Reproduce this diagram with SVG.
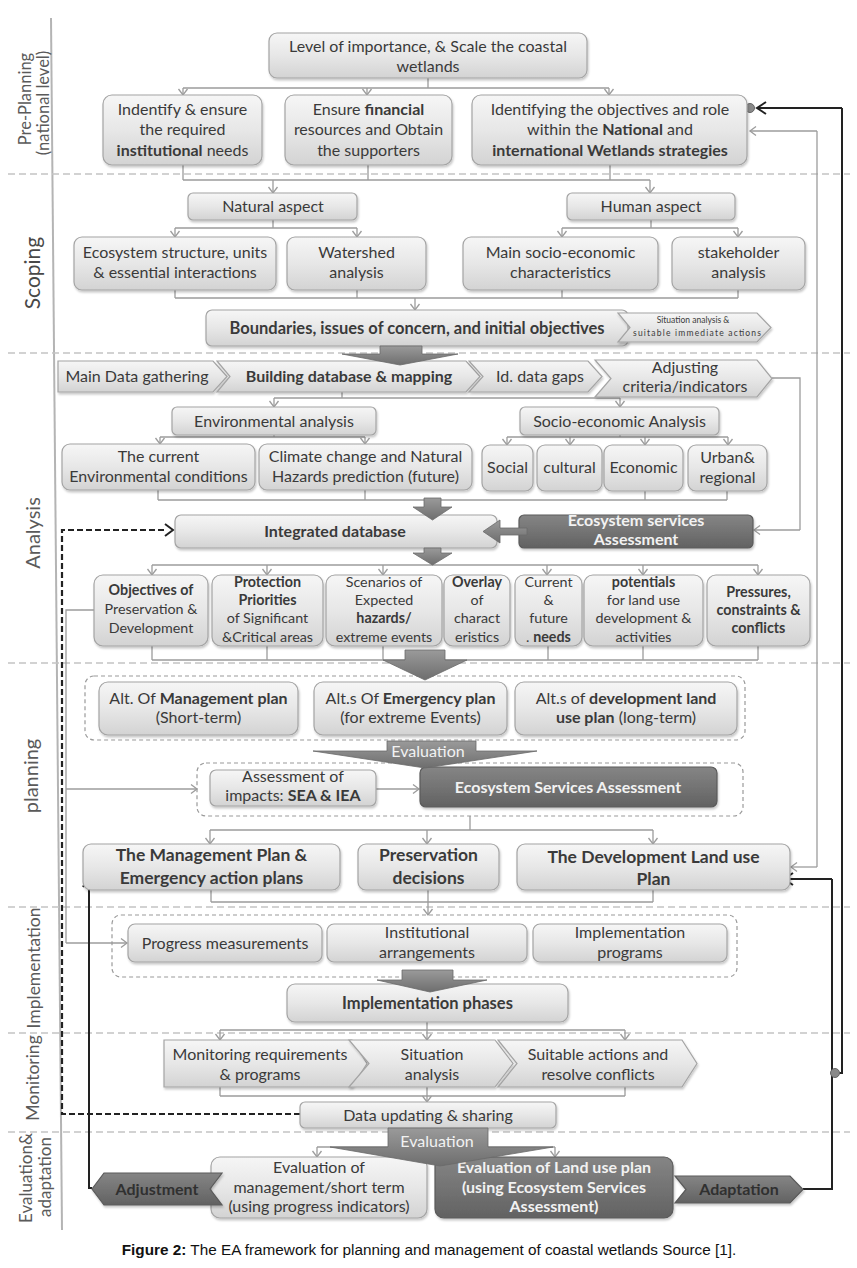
<svg xmlns="http://www.w3.org/2000/svg" width="857" height="1268" viewBox="0 0 857 1268">
<defs>
<style>
.t{font-family:Lato,"Liberation Sans",sans-serif;font-size:16px;fill:#3a3a3a;text-anchor:middle}
.s13{font-size:14.3px}
.s15{font-size:16px}
.s16{font-size:16.5px}
.s17{font-size:17.5px}
.sm{font-size:8.5px}
.b{font-weight:bold}
.w{fill:#f2f2f2}
.dk{fill:#303030}
.box{fill:url(#gl);stroke:#a4a4a4;stroke-width:1.2;filter:url(#sh)}
.dbox{fill:url(#gd);stroke:#5a5a5a;stroke-width:1.2;filter:url(#sh)}
.grp{fill:none;stroke:#9a9a9a;stroke-width:1.2;stroke-dasharray:4 3}
.div{stroke:#c4c4c4;stroke-width:1.5;stroke-dasharray:7 4}
.c{fill:none;stroke:#9c9c9c;stroke-width:1.3}
.ca{fill:none;stroke:#9c9c9c;stroke-width:1.3;marker-end:url(#ah)}
.k{fill:none;stroke:#222;stroke-width:2}
.kd{fill:none;stroke:#222;stroke-width:2.2;stroke-dasharray:6 3}
.big{fill:url(#gb);stroke:#6a6a6a;stroke-width:0.8}
.lab{font-family:Lato,"Liberation Sans",sans-serif;fill:#5a5a5a;text-anchor:middle}
</style>
<linearGradient id="gl" x1="0" y1="0" x2="0" y2="1"><stop offset="0" stop-color="#f6f6f6"/><stop offset="0.5" stop-color="#e7e7e7"/><stop offset="1" stop-color="#d3d3d3"/></linearGradient>
<linearGradient id="gd" x1="0" y1="0" x2="0" y2="1"><stop offset="0" stop-color="#858585"/><stop offset="1" stop-color="#626262"/></linearGradient>
<linearGradient id="gb" x1="0" y1="0" x2="0" y2="1"><stop offset="0" stop-color="#9a9a9a"/><stop offset="1" stop-color="#6e6e6e"/></linearGradient>
<filter id="sh" x="-5%" y="-10%" width="110%" height="130%"><feDropShadow dx="1" dy="2" stdDeviation="1.3" flood-color="#000" flood-opacity="0.22"/></filter>
<marker id="ah" markerUnits="userSpaceOnUse" markerWidth="12" markerHeight="12" refX="7" refY="6" orient="auto"><path d="M1,1.5 L7,6 L1,10.5" fill="none" stroke="#9c9c9c" stroke-width="1.3"/></marker>
<marker id="ak" markerUnits="userSpaceOnUse" markerWidth="14" markerHeight="14" refX="10" refY="7" orient="auto"><path d="M1,1 L10,7 L1,13" fill="none" stroke="#222" stroke-width="2"/></marker>
</defs>
<rect width="857" height="1268" fill="#fff"/>

<g id="lanes">
<line x1="51" y1="18" x2="62" y2="1230" stroke="#b4b4b4" stroke-width="2"/>
<line class="div" x1="8" y1="174" x2="850" y2="174"/>
<line class="div" x1="8" y1="353" x2="850" y2="353"/>
<line class="div" x1="8" y1="663" x2="850" y2="663"/>
<line class="div" x1="8" y1="907" x2="850" y2="907"/>
<line class="div" x1="8" y1="1033" x2="850" y2="1033"/>
<line class="div" x1="8" y1="1132" x2="850" y2="1132"/>
<text class="lab" font-size="16.5" transform="translate(31,99) rotate(-90)">Pre-Planning</text>
<text class="lab" font-size="16.5" transform="translate(49,103) rotate(-90)">(national level)</text>
<text class="lab" font-size="21" style="fill:#484848" transform="translate(40,273) rotate(-90)">Scoping</text>
<text class="lab" font-size="20" transform="translate(40,533) rotate(-90)">Analysis</text>
<text class="lab" font-size="20" transform="translate(38,776) rotate(-90)">planning</text>
<text class="lab" font-size="17.5" transform="translate(40,968) rotate(-90)">Implementation</text>
<text class="lab" font-size="17.5" transform="translate(39,1078) rotate(-90)">Monitoring</text>
<text class="lab" font-size="17" transform="translate(32,1178) rotate(-90)">Evaluation&amp;</text>
<text class="lab" font-size="17" transform="translate(51,1177) rotate(-90)">adaptation</text>
</g>

<g id="connectors">
<path class="c" d="M428,78 V88 M183,88 H609"/>
<path class="ca" d="M183,88 V95"/>
<path class="ca" d="M367,88 V95"/>
<path class="ca" d="M609,88 V95"/>
<path class="c" d="M183,165 V180 M368,165 V180 M610,165 V180 M183,180 H650"/>
<path class="ca" d="M273,180 V193"/>
<path class="ca" d="M650,180 V193"/>
<path class="c" d="M273,220 V228 M175,228 H357 M651,220 V228 M562,228 H738"/>
<path class="ca" d="M175,228 V237"/>
<path class="ca" d="M357,228 V237"/>
<path class="ca" d="M562,228 V237"/>
<path class="ca" d="M738,228 V237"/>
<path class="c" d="M175,290 V298 M357,290 V298 M562,290 V298 M738,290 V298 M175,298 H738"/>
<path class="ca" d="M415,298 V310"/>
<path class="c" d="M342,392 V398 M274,398 H620"/>
<path class="ca" d="M274,398 V407"/>
<path class="ca" d="M620,398 V407"/>
<path class="c" d="M274,435 V437 M160,437 H365 M620,435 V437 M507,437 H728"/>
<path class="ca" d="M160,437 V444"/>
<path class="ca" d="M365,437 V444"/>
<path class="ca" d="M507,437 V445"/>
<path class="ca" d="M570,437 V445"/>
<path class="ca" d="M645,437 V445"/>
<path class="ca" d="M728,437 V445"/>
<path class="c" d="M158,490 V500 M365,490 V500 M645,491 V500 M727,491 V500 M158,500 H727"/>
<path class="c" d="M152,565 H758"/>
<path class="ca" d="M152,565 V575"/>
<path class="ca" d="M267,565 V575"/>
<path class="ca" d="M383,565 V575"/>
<path class="ca" d="M547,565 V575"/>
<path class="ca" d="M643,565 V575"/>
<path class="ca" d="M758,565 V575"/>
<path class="c" d="M152,646 V660 M267,646 V660 M383,646 V660 M548,646 V660 M643,646 V660 M758,646 V660 M152,660 H758"/>
<path class="ca" d="M376,789 H419"/>
<path class="c" d="M470,816 V830 M210,830 H653"/>
<path class="ca" d="M210,830 V844"/>
<path class="ca" d="M427,830 V844"/>
<path class="ca" d="M653,830 V844"/>
<path class="c" d="M211,890 V902 M653,890 V902 M211,902 H653"/>
<path class="ca" d="M428,890 V915"/>
<path class="c" d="M427,1022 V1030 M220,1030 H625"/>
<path class="ca" d="M220,1030 V1040"/>
<path class="ca" d="M427,1030 V1040"/>
<path class="ca" d="M625,1030 V1040"/>
<path class="c" d="M220,1087 V1096 M625,1087 V1096 M220,1096 H625"/>
<path class="ca" d="M427,1087 V1102"/>
<path class="c" d="M317,1147 H555"/>
<path class="ca" d="M317,1147 V1157"/>
<path class="ca" d="M555,1147 V1157"/>
<path class="c" d="M94,610 H66 V943"/>
<path class="ca" d="M66,789 H197"/>
<path class="ca" d="M66,943 H127"/>
<path class="c" d="M772,378 H800 V530"/>
<path class="ca" d="M800,530 H754"/>
<path class="c" d="M817,131 V867"/>
<path class="ca" d="M817,131 H750"/>
<path class="ca" d="M817,867 H791"/>
<path class="kd" d="M300,1114 H62 V530 H165"/>
<path d="M165,524 L173,530 L165,536" fill="none" stroke="#222" stroke-width="2"/>
<path class="k" d="M92,1188 H89 V882"/>
<path d="M83,887 L89,876 L95,887" fill="none" stroke="#222" stroke-width="2"/>
<path class="k" d="M803,1189 H832 V879"/>
<path class="k" d="M832,879 H784" marker-end="url(#ak)"/>
<path class="k" d="M835,1073 H842 V108"/>
<path class="k" d="M842,108 H757" marker-end="url(#ak)"/>
<circle cx="835" cy="1073" r="4.5" fill="#8a8a8a" stroke="#666"/>
<circle cx="750" cy="108" r="4.5" fill="#8a8a8a" stroke="#666"/>
</g>

<g id="n-top"><rect class="box" x="269" y="33" width="318" height="45" rx="8"/>
<text class="t" x="428" y="52">Level of importance, &amp; Scale the coastal</text><text class="t" x="428" y="72">wetlands</text></g>

<g id="n-inst"><rect class="box" x="103" y="95" width="159" height="70" rx="9"/>
<text class="t" x="182.5" y="115">Indentify &amp; ensure</text><text class="t" x="182.5" y="135">the required</text><text class="t" x="182.5" y="156"><tspan class="b">institutional</tspan> needs</text></g>
<g id="n-fin"><rect class="box" x="285" y="95" width="167" height="70" rx="9"/>
<text class="t" x="368.5" y="115">Ensure <tspan class="b">financial</tspan></text><text class="t" x="368.5" y="135">resources and Obtain</text><text class="t" x="368.5" y="156">the supporters</text></g>
<g id="n-obj"><rect class="box" x="472" y="95" width="275" height="70" rx="9"/>
<text class="t" x="610" y="115">Identifying the objectives and role</text><text class="t" x="610" y="135">within the <tspan class="b">National</tspan> and</text><text class="t b" x="610" y="156">international Wetlands strategies</text></g>

<g id="n-nat"><rect class="box" x="188" y="193" width="169" height="27" rx="5"/><text class="t" x="273" y="212">Natural aspect</text></g>
<g id="n-hum"><rect class="box" x="567" y="193" width="168" height="27" rx="5"/><text class="t" x="651" y="212">Human aspect</text></g>

<g id="n-eco"><rect class="box" x="74" y="237" width="202" height="53" rx="8"/><text class="t" x="175" y="258">Ecosystem structure, units</text><text class="t" x="175" y="278">&amp; essential interactions</text></g>
<g id="n-wat"><rect class="box" x="287" y="237" width="139" height="53" rx="8"/><text class="t" x="356.5" y="258">Watershed</text><text class="t" x="356.5" y="278">analysis</text></g>
<g id="n-soc"><rect class="box" x="463" y="237" width="195" height="53" rx="8"/><text class="t" x="560.5" y="258">Main socio-economic</text><text class="t" x="560.5" y="278">characteristics</text></g>
<g id="n-stk"><rect class="box" x="672" y="237" width="133" height="53" rx="8"/><text class="t" x="738.5" y="258">stakeholder</text><text class="t" x="738.5" y="278">analysis</text></g>

<g id="n-bound"><rect class="box" x="206" y="310" width="422" height="36" rx="6"/><text class="t s16 b" x="417" y="334">Boundaries, issues of concern, and initial objectives</text></g>
<g id="n-sit"><polygon class="box" points="618,313 757,313 771,327.5 757,342 618,342 630,327.5"/><text class="t sm" x="693" y="323">Situation analysis &amp;</text><text class="t sm" x="697" y="336" textLength="128" lengthAdjust="spacing">suitable immediate  actions</text></g>

<g id="n-gath"><polygon class="box" points="58,361 213,361 227,376.5 213,392 58,392"/><text class="t" x="137" y="382">Main Data gathering</text></g>
<g id="n-build"><polygon class="box" points="217,361 466,361 480,376.5 466,392 217,392 230,376.5"/><text class="t b" x="349" y="382">Building database &amp; mapping</text></g>
<g id="n-gaps"><polygon class="box" points="469,361 588,361 602,376.5 588,392 469,392 483,376.5"/><text class="t" x="540" y="382">Id. data gaps</text></g>
<g id="n-adj"><polygon class="box" points="595,360 757,360 772,378.5 757,397 595,397 611,378.5"/><text class="t" x="685" y="373">Adjusting</text><text class="t" x="685" y="392">criteria/indicators</text></g>

<g id="n-env"><rect class="box" x="172" y="407" width="204" height="28" rx="5"/><text class="t" x="274" y="426.5">Environmental analysis</text></g>
<g id="n-sea"><rect class="box" x="520" y="407" width="199" height="28" rx="5"/><text class="t" x="619.5" y="426.5">Socio-economic Analysis</text></g>

<g id="n-cur"><rect class="box" x="62" y="444" width="193" height="46" rx="8"/><text class="t" x="158.5" y="462">The current</text><text class="t" x="158.5" y="482">Environmental conditions</text></g>
<g id="n-clim"><rect class="box" x="259" y="444" width="213" height="46" rx="8"/><text class="t" x="365.5" y="462">Climate change and Natural</text><text class="t" x="365.5" y="482">Hazards prediction (future)</text></g>
<g id="n-social"><rect class="box" x="482" y="445" width="51" height="46" rx="8"/><text class="t" x="507.5" y="473">Social</text></g>
<g id="n-cult"><rect class="box" x="537" y="445" width="65" height="46" rx="8"/><text class="t" x="569.5" y="473">cultural</text></g>
<g id="n-econ"><rect class="box" x="604" y="445" width="79" height="46" rx="8"/><text class="t" x="643.5" y="473">Economic</text></g>
<g id="n-urb"><rect class="box" x="688" y="445" width="79" height="46" rx="8"/><text class="t" x="727.5" y="463">Urban&amp;</text><text class="t" x="727.5" y="483">regional</text></g>

<g id="n-intdb"><rect class="box" x="175" y="515" width="322" height="33" rx="6"/><text class="t b" x="335" y="537">Integrated database</text></g>
<g id="n-esa1"><rect class="dbox" x="519" y="515" width="234" height="33" rx="5"/><text class="t b w" x="636" y="526">Ecosystem services</text><text class="t b w" x="636" y="545">Assessment</text></g>

<g id="n-o1"><rect class="box" x="94" y="575" width="114" height="71" rx="9"/><text class="t s13 b" x="151" y="595">Objectives of</text><text class="t s13" x="151" y="614">Preservation &amp;</text><text class="t s13" x="151" y="633">Development</text></g>
<g id="n-o2"><rect class="box" x="212" y="575" width="111" height="71" rx="9"/><text class="t s13 b" x="267.5" y="587">Protection</text><text class="t s13 b" x="267.5" y="605">Priorities</text><text class="t s13" x="267.5" y="623">of Significant</text><text class="t s13" x="267.5" y="642">&amp;Critical areas</text></g>
<g id="n-o3"><rect class="box" x="326" y="575" width="116" height="71" rx="9"/><text class="t s13" x="384" y="587">Scenarios of</text><text class="t s13" x="384" y="605">Expected</text><text class="t s13 b" x="384" y="623">hazards/</text><text class="t s13" x="384" y="642">extreme  events</text></g>
<g id="n-o4"><rect class="box" x="444" y="575" width="66" height="71" rx="9"/><text class="t s13 b" x="477" y="587">Overlay</text><text class="t s13" x="477" y="605">of</text><text class="t s13" x="477" y="623">charact</text><text class="t s13" x="477" y="642">eristics</text></g>
<g id="n-o5"><rect class="box" x="515" y="575" width="67" height="71" rx="9"/><text class="t s13" x="548.5" y="587">Current</text><text class="t s13" x="548.5" y="605">&amp;</text><text class="t s13" x="548.5" y="623">future</text><text class="t s13" x="548.5" y="642">. <tspan class="b">needs</tspan></text></g>
<g id="n-o6"><rect class="box" x="584" y="575" width="119" height="71" rx="9"/><text class="t s13 b" x="643.5" y="587">potentials</text><text class="t s13" x="643.5" y="605">for land use</text><text class="t s13" x="643.5" y="623">development  &amp;</text><text class="t s13" x="643.5" y="642">activities</text></g>
<g id="n-o7"><rect class="box" x="707" y="575" width="103" height="71" rx="9"/><text class="t s13 b" x="758.5" y="597">Pressures,</text><text class="t s13 b" x="758.5" y="615">constraints &amp;</text><text class="t s13 b" x="758.5" y="633">conflicts</text></g>

<g id="g-alts"><rect class="grp" x="85" y="676" width="660" height="64" rx="9"/></g>
<g id="n-alt1"><rect class="box" x="99" y="682" width="199" height="53" rx="9"/><text class="t" x="198.5" y="704">Alt. Of <tspan class="b">Management plan</tspan></text><text class="t" x="198.5" y="723">(Short-term)</text></g>
<g id="n-alt2"><rect class="box" x="314" y="682" width="193" height="53" rx="9"/><text class="t" x="410.5" y="704">Alt.s Of <tspan class="b">Emergency plan</tspan></text><text class="t" x="410.5" y="723">(for extreme Events)</text></g>
<g id="n-alt3"><rect class="box" x="515" y="682" width="222" height="53" rx="9"/><text class="t" x="626" y="704">Alt.s of <tspan class="b">development land</tspan></text><text class="t" x="626" y="723"><tspan class="b">use plan</tspan> (long-term)</text></g>

<g id="g-assess"><rect class="grp" x="197" y="763" width="546" height="53" rx="9"/></g>
<g id="n-impact"><rect class="box" x="210" y="770" width="166" height="36" rx="6"/><text class="t" x="293" y="782">Assessment of</text><text class="t" x="293" y="801">impacts: <tspan class="b">SEA &amp; IEA</tspan></text></g>
<g id="n-esa2"><rect class="dbox" x="420" y="767" width="297" height="40" rx="6"/><text class="t b w" x="568" y="792.5">Ecosystem Services Assessment</text></g>

<g id="n-mplan"><rect class="box" x="83" y="844" width="257" height="46" rx="8"/><text class="t s17 b" x="211.5" y="861">The Management Plan &amp;</text><text class="t s17 b" x="211.5" y="884">Emergency action plans</text></g>
<g id="n-pres"><rect class="box" x="358" y="844" width="141" height="46" rx="8"/><text class="t s17 b" x="428.5" y="861">Preservation</text><text class="t s17 b" x="428.5" y="884">decisions</text></g>
<g id="n-dplan"><rect class="box" x="517" y="844" width="273" height="46" rx="8"/><text class="t s17 b" x="653.5" y="863">The Development Land use</text><text class="t s17 b" x="653.5" y="885">Plan</text></g>

<g id="g-impl"><rect class="grp" x="112" y="915" width="625" height="62" rx="9"/></g>
<g id="n-prog"><rect class="box" x="128" y="924" width="194" height="38" rx="7"/><text class="t" x="225" y="948.5">Progress measurements</text></g>
<g id="n-instarr"><rect class="box" x="327" y="924" width="200" height="38" rx="7"/><text class="t" x="427" y="938">Institutional</text><text class="t" x="427" y="958">arrangements</text></g>
<g id="n-implprog"><rect class="box" x="533" y="924" width="194" height="38" rx="7"/><text class="t" x="630" y="938">Implementation</text><text class="t" x="630" y="958">programs</text></g>

<g id="n-phases"><rect class="box" x="287" y="984" width="281" height="38" rx="8"/><text class="t s16 b" x="427.5" y="1009">Implementation phases</text></g>

<g id="n-mon"><polygon class="box" points="164,1040 352,1040 367,1063.5 352,1087 164,1087"/><text class="t" x="260" y="1060">Monitoring requirements</text><text class="t" x="260" y="1080">&amp; programs</text></g>
<g id="n-situ"><polygon class="box" points="349,1040 495,1040 513,1063.5 495,1087 349,1087 369,1063.5"/><text class="t" x="432" y="1060">Situation</text><text class="t" x="432" y="1080">analysis</text></g>
<g id="n-suit"><polygon class="box" points="498,1040 682,1040 697,1063.5 682,1087 498,1087 517,1063.5"/><text class="t" x="598" y="1060">Suitable actions and</text><text class="t" x="598" y="1080">resolve conflicts</text></g>

<g id="n-data"><rect class="box" x="300" y="1102" width="256" height="26" rx="5"/><text class="t" x="428" y="1120.5">Data updating &amp; sharing</text></g>

<g id="n-evm"><rect class="box" x="211" y="1157" width="216" height="61" rx="9"/><text class="t" x="319" y="1173">Evaluation of</text><text class="t" x="319" y="1193">management/short term</text><text class="t" x="319" y="1212">(using progress indicators)</text></g>
<g id="n-evl"><rect class="dbox" x="435" y="1157" width="238" height="61" rx="9"/><text class="t b w" x="554" y="1173">Evaluation of Land use plan</text><text class="t b w" x="554" y="1193">(using Ecosystem Services</text><text class="t b w" x="554" y="1212">Assessment)</text></g>

<g id="n-adjust"><polygon class="dbox" points="104,1173 222,1173 210,1189 222,1205 104,1205 92,1189"/><text class="t b dk" x="157" y="1194.5">Adjustment</text></g>
<g id="n-adapt"><polygon class="dbox" points="675,1176 790,1176 803,1189.5 790,1203 675,1203 686,1189.5"/><text class="t b dk" x="739" y="1195">Adaptation</text></g>

<g id="flow-arrows">
<polygon class="big" points="380,346 422,346 422,354 458,354 400,365 342,354 380,354"/>
<polygon class="big" points="424,498 441,498 441,507 452,507 432.5,520 413,507 424,507"/>
<polygon class="big" points="424,548 441,548 441,553 452,553 432.5,565 413,553 424,553"/>
<polygon class="big" points="405,650 445,650 445,660 467,660 425,680 383,660 405,660"/>
<polygon class="big" points="387,741 476,741 476,751 537,751 425,768 313,751 387,751"/>
<text class="t w" x="428" y="757">Evaluation</text>
<polygon class="big" points="402,970 453,970 453,980 487,980 430,992 377,980 402,980"/>
<polygon class="big" points="527,528 500,528 500,520 483,531.5 500,543 500,535 527,535"/>
<polygon class="big" points="388,1128 488,1128 488,1147 553,1147 440,1166 330,1147 388,1147"/>
<text class="t w" x="437" y="1147">Evaluation</text>
</g>

<text x="429" y="1255" font-family="'Liberation Sans',Arial,sans-serif" font-size="15.3" fill="#111" text-anchor="middle"><tspan font-weight="bold">Figure 2:</tspan> The EA framework for planning and management of coastal wetlands Source [1].</text>
</svg>
